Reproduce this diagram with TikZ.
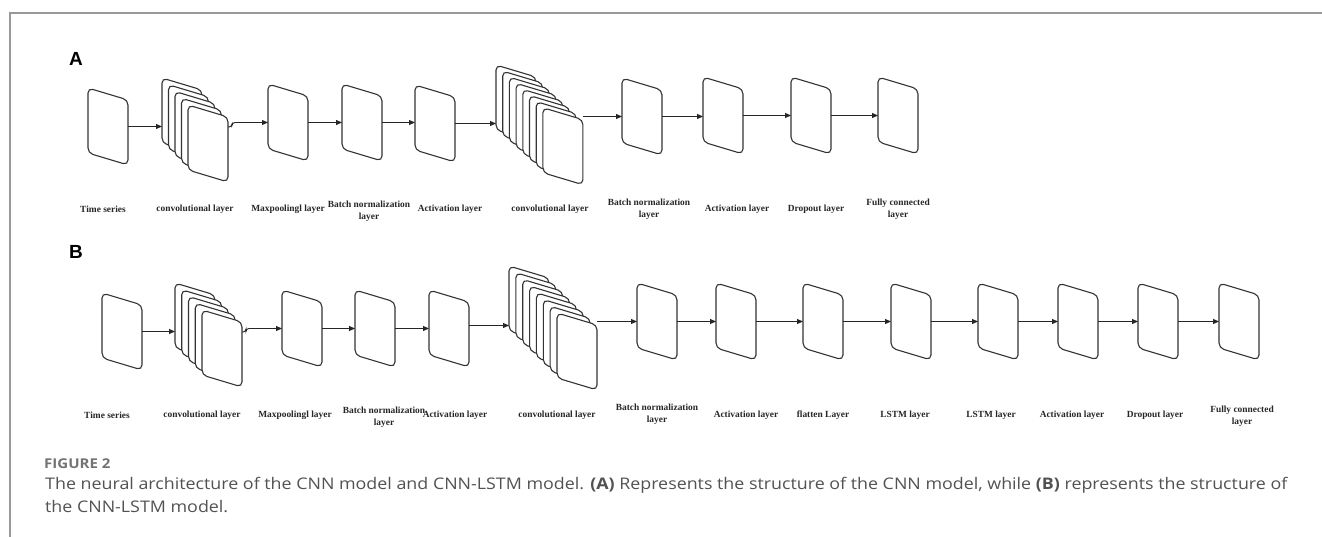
\documentclass[tikz,border=0pt]{standalone}
\usepackage{fontspec}
\setmainfont{Liberation Serif}
\newfontfamily\capfont{Open Sans}[FakeStretch=1.115]
\newfontfamily\headfont{Liberation Sans}
\usetikzlibrary{arrows.meta,calc}

\tikzset{
  cardbox/.style={inner sep=0pt, outer sep=0pt, minimum width=40pt, minimum height=77pt},
  cardline/.style={draw=black!80, line width=1.1pt, fill=white, rounded corners=5pt},
  arr/.style={draw=black!85, line width=0.9pt, -{Triangle[length=6pt,width=5pt]}},
  lab/.style={font=\bfseries\fontsize{9.4}{12}\selectfont, align=center, text=black!85, inner sep=0pt},
  panel/.style={font=\headfont\bfseries\fontsize{19}{19}\selectfont, inner sep=0pt},
  frameline/.style={draw=black!40, line width=1.3pt},
  captext/.style={font=\capfont\fontsize{16}{16}\selectfont, text=black!68, inner sep=0pt, anchor=base west},
}

\newcommand\card[3]{%
  \node[cardbox] (#1) at ({#2+20},{#3+38.5}) {};
  \draw[cardline] (#1.north west) -- ([yshift=-12pt]#1.north east) -- (#1.south east)
     -- ([yshift=12pt]#1.south west) -- cycle;
}
\newcommand\cardstack[6]{%
  \foreach \i in {1,...,#4}{%
    \card{#1-\i}{#2+(\i-1)*#5}{#3+(\i-1)*#6}%
  }%
}

\begin{document}
\begin{tikzpicture}[x=1pt,y=-1pt]
\useasboundingbox (0,0) rectangle (1322,537);
\draw[frameline] (10,537) -- (10,13) -- (1322,13);

% ---------------- Panel A ----------------
\node[panel] (pA) at (76,59) {A};
\card{Ats}{88}{88}
\cardstack{Ac1}{162}{78}{5}{6.5}{6.75}
\card{Amp}{268}{84}
\card{Abn}{342}{84}
\card{Aact}{415}{85}
\cardstack{Ac2}{496}{65}{8}{6.7}{6.1}
\card{Abn2}{622}{78}
\card{Aact2}{703}{77}
\card{Adrop}{791}{77}
\card{Afc}{878}{77}

\coordinate (Ac1out) at ([yshift=-22pt]Ac1-5.north east);
\draw[arr] (Ats.east) -- (Ats.east -| Ac1-1.west);
\draw[arr, rounded corners=3pt] (Ac1out) -- ++(4,0) |- (Amp.west);
\draw[arr] (Amp.east) -- (Abn.west);
\draw[arr] (Abn.east) -- (Abn.east -| Aact.west);
\draw[arr] (Aact.east) -- (Aact.east -| Ac2-1.west);
\draw[arr] (Ac2-8.east |- Abn2.west) -- (Abn2.west);
\draw[arr] (Abn2.east) -- (Abn2.east -| Aact2.west);
\draw[arr] (Aact2.east) -- (Adrop.west);
\draw[arr] (Adrop.east) -- (Afc.west);

\node[lab] (lA1) at (103,209) {Time series};
\node[lab] (lA2) at (195,209) {convolutional layer};
\node[lab] (lA3) at (288,209) {Maxpoolingl layer};
\node[lab] (lA4) at (369,211) {Batch normalization\\layer};
\node[lab] (lA5) at (450,209) {Activation layer};
\node[lab] (lA6) at (550,209) {convolutional layer};
\node[lab] (lA7) at (649,209) {Batch normalization\\layer};
\node[lab] (lA8) at (737,209) {Activation layer};
\node[lab] (lA9) at (816,209) {Dropout layer};
\node[lab] (lA10) at (898,209) {Fully connected\\layer};

% ---------------- Panel B ----------------
\node[panel] (pB) at (76,252) {B};
\card{Bts}{102}{293}
\cardstack{Bc1}{175}{283}{5}{6.75}{6.75}
\card{Bmp}{282}{290}
\card{Bbn}{355}{290}
\card{Bact}{429}{290}
\cardstack{Bc2}{509}{266}{8}{6.86}{6.71}
\card{Bbn2}{637}{283}
\card{Bact2}{716}{283}
\card{Bflat}{803}{283}
\card{Blstm1}{891}{283}
\card{Blstm2}{978}{283}
\card{Bact3}{1058}{283}
\card{Bdrop}{1138}{283}
\card{Bfc}{1219}{283}

\coordinate (Bc1out) at ([yshift=-22pt]Bc1-5.north east);
\draw[arr] (Bts.east) -- (Bts.east -| Bc1-1.west);
\draw[arr, rounded corners=3pt] (Bc1out) -- ++(4,0) |- (Bmp.west);
\draw[arr] (Bmp.east) -- (Bbn.west);
\draw[arr] (Bbn.east) -- (Bact.west);
\draw[arr] ([yshift=3pt]Bact.east) -- ([yshift=3pt]Bact.east -| Bc2-1.west);
\draw[arr] (Bc2-8.east |- Bbn2.west) -- (Bbn2.west);
\draw[arr] (Bbn2.east) -- (Bact2.west);
\draw[arr] (Bact2.east) -- (Bflat.west);
\draw[arr] (Bflat.east) -- (Blstm1.west);
\draw[arr] (Blstm1.east) -- (Blstm2.west);
\draw[arr] (Blstm2.east) -- (Bact3.west);
\draw[arr] (Bact3.east) -- (Bdrop.west);
\draw[arr] (Bdrop.east) -- (Bfc.west);

\node[lab] (lB1) at (107,415) {Time series};
\node[lab] (lB2) at (202,415) {convolutional layer};
\node[lab] (lB3) at (295,415) {Maxpoolingl layer};
\node[lab] (lB4) at (384,417) {Batch normalization\\layer};
\node[lab] (lB5) at (455,415) {Activation layer};
\node[lab] (lB6) at (557,415) {convolutional layer};
\node[lab] (lB7) at (657,414) {Batch normalization\\layer};
\node[lab] (lB8) at (746,415) {Activation layer};
\node[lab] (lB9) at (823,415) {flatten Layer};
\node[lab] (lB10) at (905,415) {LSTM layer};
\node[lab] (lB11) at (991,415) {LSTM layer};
\node[lab] (lB12) at (1072,415) {Activation layer};
\node[lab] (lB13) at (1155,415) {Dropout layer};
\node[lab] (lB14) at (1242,416) {Fully connected\\layer};

% ---------------- Caption ----------------
\node[captext, font=\capfont\bfseries\fontsize{13.5}{13.5}\selectfont, text=black!55] (fig) at (44,468) {FIGURE 2};
\node[captext] (cap1) at (45,489) {The neural architecture of the CNN model and CNN-LSTM model. \textbf{(A)} Represents the structure of the CNN model, while \textbf{(B)} represents the structure of};
\node[captext] (cap2) at (45,512) {the CNN-LSTM model.};
\end{tikzpicture}
\end{document}
